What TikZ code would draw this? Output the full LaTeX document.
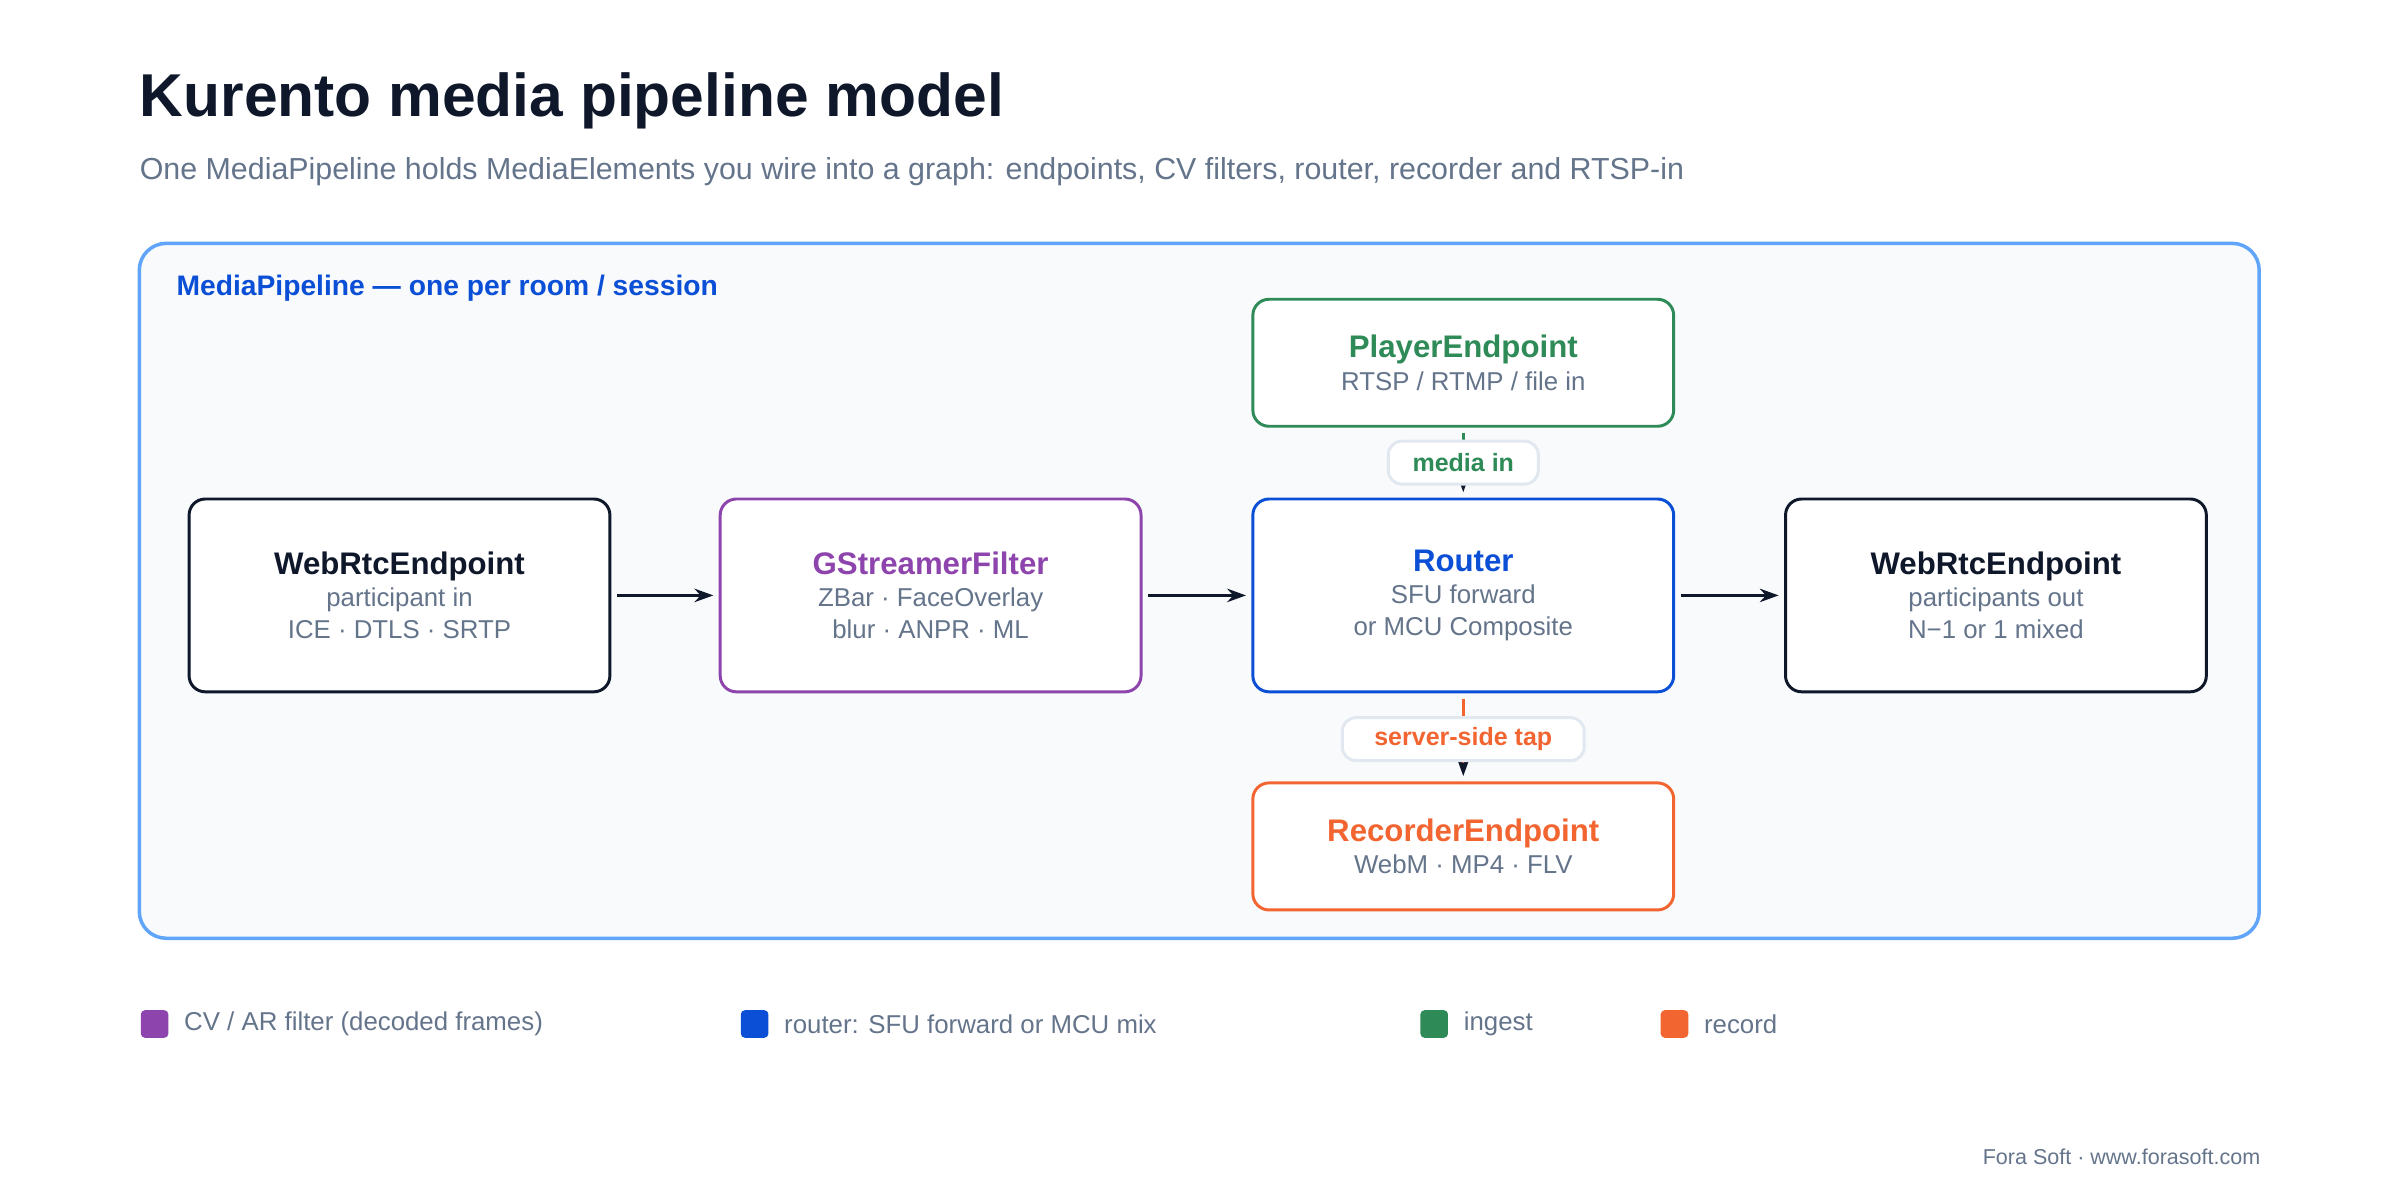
\documentclass[tikz,border=0pt]{standalone}
\usepackage{fontspec}
\setmainfont{Liberation Sans}
\usetikzlibrary{arrows.meta,positioning}
\definecolor{ink}{HTML}{0F172A}
\definecolor{muted}{HTML}{64748B}
\definecolor{cvpurple}{HTML}{8E44AD}
\definecolor{rtblue}{HTML}{0B4FD6}
\definecolor{ingreen}{HTML}{2E8B57}
\definecolor{recorange}{HTML}{F26430}
\definecolor{pipeblue}{HTML}{60A5FA}
\definecolor{pipefill}{HTML}{F8FAFC}
\definecolor{tagline}{HTML}{E2E8F0}
\newcommand{\boxhead}[2]{{\fontsize{11.6}{14.5}\selectfont\bfseries\color{#1}#2}}
\newcommand{\boxsub}[1]{{\fontsize{9.6}{14.2}\selectfont\color{muted}#1}}
\tikzset{element/.style={draw=#1,line width=1.1pt,rounded corners=6pt,fill=white,
           minimum width=5.5cm,minimum height=2.52cm,align=center,inner sep=0pt},
         flow/.style={line width=1.1pt,ink,-{Stealth[length=7pt,width=5pt]}},
         tag/.style={draw=tagline,fill=white,rounded corners=5pt,minimum height=0.56cm,
           font=\fontsize{9.3}{11}\selectfont\bfseries,text=#1},
         swatch/.style={fill=#1,rounded corners=1.5pt,minimum size=0.36cm,inner sep=0pt},
         legend/.style={font=\fontsize{9.6}{11}\selectfont,text=muted,anchor=west,inner sep=0pt}
}
\begin{document}
\begin{tikzpicture}[x=0.02cm,y=-0.02cm]
  \useasboundingbox (0,0) rectangle (1568,784);
  \node[anchor=base west,inner sep=0pt,text=ink,font=\fontsize{22.5}{26}\selectfont\bfseries] (title) at (91,76) {Kurento media pipeline model};
  \node[anchor=base west,inner sep=0pt,text=muted,font=\fontsize{11.3}{14}\selectfont] (subtitle) at (91,117) {One MediaPipeline holds MediaElements you wire into a graph: endpoints, CV filters, router, recorder and RTSP-in};
  % pipeline frame
  \draw[pipeblue,fill=pipefill,line width=1.3pt,rounded corners=10pt] (91,159) rectangle (1476,613);
  \node[anchor=base west,inner sep=0pt,text=rtblue,font=\fontsize{10.5}{13}\selectfont\bfseries] (pipename) at (115,193) {MediaPipeline — one per room / session};
  % elements
  \node[element=ink] (webin) at (261,389) {\boxhead{ink}{WebRtcEndpoint}\\\boxsub{participant in}\\\boxsub{ICE · DTLS · SRTP}};
  \node[element=cvpurple] (filter) at (608,389) {\boxhead{cvpurple}{GStreamerFilter}\\\boxsub{ZBar · FaceOverlay}\\\boxsub{blur · ANPR · ML}};
  \node[element=rtblue] (router) at (956,389) {\boxhead{rtblue}{Router}\\\boxsub{SFU forward}\\\boxsub{or MCU Composite}};
  \node[element=ink] (webout) at (1304,389) {\boxhead{ink}{WebRtcEndpoint}\\\boxsub{participants out}\\\boxsub{N−1 or 1 mixed}};
  \node[element=ingreen,minimum height=1.66cm] (player) at (956,237) {\boxhead{ingreen}{PlayerEndpoint}\\\boxsub{RTSP / RTMP / file in}};
  \node[element=recorange,minimum height=1.66cm] (recorder) at (956,553) {\boxhead{recorange}{RecorderEndpoint}\\\boxsub{WebM · MP4 · FLV}};
  % connectors
  \draw[flow,shorten <=2pt,shorten >=2pt] (webin) -- (filter);
  \draw[flow,shorten <=2pt,shorten >=2pt] (filter) -- (router);
  \draw[flow,shorten <=2pt,shorten >=2pt] (router) -- (webout);
  \draw[flow,ingreen,-{Stealth[length=7pt,width=5pt,ink]},shorten <=2pt,shorten >=2pt] (player) -- (router)
    node[tag=ingreen,midway,minimum width=1.96cm] (mediain) {media in};
  \draw[flow,recorange,-{Stealth[length=7pt,width=5pt,ink]},shorten <=2pt,shorten >=2pt] (router) -- (recorder)
    node[tag=recorange,pos=0.52,minimum width=3.16cm] (tap) {server-side tap};
  % legend
  \node[swatch=cvpurple] (sw1) at (101,669) {};
  \node[legend] (lg1) at (120,669) {CV / AR filter (decoded frames)};
  \node[swatch=rtblue] (sw2) at (493,669) {};
  \node[legend] (lg2) at (512,669) {router: SFU forward or MCU mix};
  \node[swatch=ingreen] (sw3) at (937,669) {};
  \node[legend] (lg3) at (956,669) {ingest};
  \node[swatch=recorange] (sw4) at (1094,669) {};
  \node[legend] (lg4) at (1113,669) {record};
  \node[anchor=east,inner sep=0pt,text=muted,font=\fontsize{8}{10}\selectfont] (footer) at (1477,756) {Fora Soft · www.forasoft.com};
\end{tikzpicture}
\end{document}
